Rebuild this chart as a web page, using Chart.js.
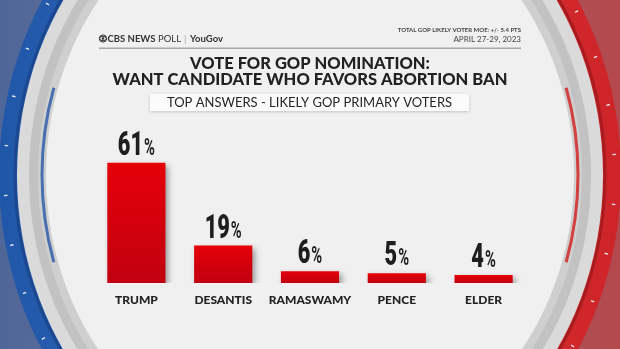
<!DOCTYPE html>
<html>
<head>
<meta charset="utf-8">
<script src="https://cdn.jsdelivr.net/npm/chart.js@4.4.0/dist/chart.umd.min.js"></script>
<style>
  html, body { margin: 0; padding: 0; background: #f0f0f0; overflow: hidden; }
  #wrap { width: 620px; height: 349px; }
</style>
</head>
<body>
<div id="wrap"><canvas id="chart"></canvas></div>
<script>
const candidates = ["TRUMP", "DESANTIS", "RAMASWAMY", "PENCE", "ELDER"];
const shares = [61, 19, 6, 5, 4];
const titleLines = ["VOTE FOR GOP NOMINATION:", "WANT CANDIDATE WHO FAVORS ABORTION BAN"];
const subtitle = "TOP ANSWERS - LIKELY GOP PRIMARY VOTERS";
const moeNote = "TOTAL GOP LIKELY VOTER MOE: +/- 5.4 PTS";
const fieldDates = "APRIL 27-29, 2023";

/* ============================= */
/* ===== studio backdrop ======= */
/* ============================= */
function disc(ctx, r, fill) {
  ctx.beginPath();
  ctx.arc(0, 0, r, 0, Math.PI * 2);
  ctx.fillStyle = fill;
  ctx.fill();
}

const backdrop = {
  id: "backdrop",
  beforeDraw(chart) {
    const ctx = chart.ctx;
    const W = chart.width, H = chart.height;
    ctx.save();

    let g = ctx.createLinearGradient(0, 0, W, 0);
    g.addColorStop(0, "#4e6698");
    g.addColorStop(0.5, "#8c7f92");
    g.addColorStop(1, "#b4484c");
    ctx.fillStyle = g;
    ctx.fillRect(0, 0, W, H);

    // the ring is slightly taller than wide
    ctx.translate(310, 175);
    ctx.scale(1, 1.106);

    g = ctx.createLinearGradient(-310, 0, 310, 0);
    g.addColorStop(0, "#2157a8");
    g.addColorStop(0.17, "#2a5fb0");
    g.addColorStop(0.3, "#c9ccd4");
    g.addColorStop(0.7, "#d8c9c9");
    g.addColorStop(0.83, "#d42b2d");
    g.addColorStop(1, "#cc2429");
    disc(ctx, 311, g);

    // darker inner edge of the coloured ring
    ctx.lineWidth = 3;
    g = ctx.createLinearGradient(-310, 0, 310, 0);
    g.addColorStop(0, "#1b4890");
    g.addColorStop(0.25, "#1b4890");
    g.addColorStop(0.35, "#b9bcc4");
    g.addColorStop(0.65, "#c9b9b9");
    g.addColorStop(0.75, "#a81c20");
    g.addColorStop(1, "#a81c20");
    ctx.strokeStyle = g;
    ctx.beginPath(); ctx.arc(0, 0, 295, 0, Math.PI * 2); ctx.stroke();

    // little white marks on the ring
    ctx.strokeStyle = "rgba(255,255,255,0.9)";
    ctx.lineWidth = 1.2;
    for (let a = -63; a <= 63; a += 8.5) {
      [180 + a, a].forEach(deg => {
        const t = deg * Math.PI / 180;
        ctx.beginPath();
        ctx.moveTo(Math.cos(t) * 303, Math.sin(t) * 303);
        ctx.lineTo(Math.cos(t) * 306.5, Math.sin(t) * 306.5);
        ctx.stroke();
      });
    }

    disc(ctx, 293, "#dadada");
    disc(ctx, 281, "#c2c2c2");
    disc(ctx, 272, "#cfcfcf");

    // thin inner accents
    ctx.lineWidth = 3;
    ctx.strokeStyle = "#4a6fb0";
    ctx.beginPath(); ctx.arc(0, 0, 268, Math.PI * 0.905, Math.PI * 1.095); ctx.stroke();
    ctx.strokeStyle = "#d24040";
    ctx.beginPath(); ctx.arc(0, 0, 268, -Math.PI * 0.095, Math.PI * 0.095); ctx.stroke();

    disc(ctx, 264, "#f0f0f0");
    ctx.restore();
  }
};

/* ============================= */
/* ===== header and titles ===== */
/* ============================= */
const headerText = {
  id: "headerText",
  afterDraw(chart) {
    const ctx = chart.ctx;
    ctx.save();
    ctx.textBaseline = "middle";

    // CBS eye
    ctx.strokeStyle = "#333"; ctx.fillStyle = "#333"; ctx.lineWidth = 1;
    ctx.beginPath(); ctx.arc(103, 38.5, 3.6, 0, Math.PI * 2); ctx.stroke();
    ctx.beginPath(); ctx.ellipse(103, 38.5, 3.4, 2.2, 0, 0, Math.PI * 2); ctx.stroke();
    ctx.beginPath(); ctx.arc(103, 38.5, 1.3, 0, Math.PI * 2); ctx.fill();

    ctx.textAlign = "left";
    ctx.font = "bold 9.5px Lato, sans-serif";
    ctx.fillText("CBS NEWS", 107.5, 39);
    let x = 107.5 + ctx.measureText("CBS NEWS").width + 2.5;
    ctx.font = "9.5px Lato, sans-serif";
    ctx.fillText("POLL", x, 39);
    x += ctx.measureText("POLL").width + 3;
    ctx.fillStyle = "#aaa";
    ctx.fillText("|", x, 39);
    ctx.fillStyle = "#333";
    ctx.font = "bold 9.5px Lato, sans-serif";
    ctx.fillText("YouGov", x + 6, 39);

    ctx.textAlign = "right";
    ctx.fillStyle = "#444";
    ctx.font = "bold 6px Lato, sans-serif";
    ctx.fillText(moeNote, 521, 30.5);
    ctx.font = "8px Lato, sans-serif";
    ctx.fillText(fieldDates, 521, 39.5);

    ctx.fillStyle = "#a8a8a8";
    ctx.fillRect(99, 47.5, 422, 1.5);

    // title
    ctx.textAlign = "center";
    ctx.fillStyle = "#222";
    ctx.font = "900 16.5px Lato, sans-serif";
    ctx.fillText(titleLines[0], 310, 63.5);
    ctx.fillText(titleLines[1], 310, 79.5);

    // subtitle box
    ctx.shadowColor = "rgba(0,0,0,0.18)";
    ctx.shadowBlur = 3;
    ctx.shadowOffsetY = 1;
    ctx.fillStyle = "#fbfbfb";
    ctx.fillRect(150, 94, 319, 17);
    ctx.shadowColor = "transparent";
    ctx.fillStyle = "#262626";
    ctx.font = "13px Lato, sans-serif";
    ctx.fillText(subtitle, 309.5, 103);
    ctx.restore();
  }
};

/* ============================= */
/* ======= bar shadows ========= */
/* ============================= */
const barShadow = {
  id: "barShadow",
  beforeDatasetsDraw(chart) {
    const ctx = chart.ctx;
    ctx.save();
    ctx.shadowColor = "rgba(0,0,0,0.38)";
    ctx.shadowBlur = 6;
    ctx.shadowOffsetX = 3;
    ctx.shadowOffsetY = 3;
  },
  afterDatasetsDraw(chart) {
    chart.ctx.restore();
  }
};

/* ============================= */
/* ====== value labels ========= */
/* ============================= */
// condensed look: draw a heavy face squeezed horizontally
const SQUEEZE = 0.64;
const NUM_FONT = "900 34px Roboto, sans-serif";
const PCT_FONT = "bold 23px Roboto, sans-serif";
const valueLabels = {
  id: "valueLabels",
  afterDatasetsDraw(chart) {
    const ctx = chart.ctx;
    const meta = chart.getDatasetMeta(0);
    ctx.save();
    ctx.fillStyle = "#1e1e1e";
    ctx.textBaseline = "alphabetic";
    ctx.textAlign = "left";
    meta.data.forEach((bar, i) => {
      const num = String(shares[i]);
      ctx.font = NUM_FONT;
      const wn = ctx.measureText(num).width * SQUEEZE;
      ctx.font = PCT_FONT;
      const wp = ctx.measureText("%").width * SQUEEZE;
      const x0 = bar.x - (wn + wp + 1) / 2;
      const y = bar.y - 8;
      ctx.save();
      ctx.translate(x0, y);
      ctx.scale(SQUEEZE, 1);
      ctx.font = NUM_FONT;
      ctx.fillText(num, 0, 0);
      ctx.font = PCT_FONT;
      ctx.fillText("%", (wn + 1) / SQUEEZE, 0);
      ctx.restore();
    });
    ctx.restore();
  }
};

function barFill(context) {
  const chart = context.chart;
  const y = chart.scales.y;
  if (!chart.chartArea || !y) return "#d6000a";
  const top = y.getPixelForValue(context.raw);
  const bottom = y.getPixelForValue(0);
  const g = chart.ctx.createLinearGradient(0, top, 0, bottom);
  g.addColorStop(0, "#e50008");
  g.addColorStop(1, "#c10010");
  return g;
}

new Chart(document.getElementById("chart"), {
  type: "bar",
  data: {
    labels: candidates,
    datasets: [{
      data: shares,
      backgroundColor: barFill,
      borderWidth: 0,
      categoryPercentage: 1.0,
      barPercentage: 0.67
    }]
  },
  options: {
    responsive: true,
    maintainAspectRatio: false,
    animation: false,
    layout: { padding: { left: 93, right: 93, top: 145, bottom: 36 } },
    plugins: {
      legend: { display: false },
      tooltip: { enabled: false }
    },
    scales: {
      x: {
        grid: { display: false, drawTicks: false },
        border: { display: false },
        ticks: {
          color: "#222",
          padding: 10,
          autoSkip: false,
          maxRotation: 0,
          minRotation: 0,
          font: { family: "Lato, sans-serif", weight: "900", size: 12 }
        },
        afterFit(scale) { scale.height = 30; }
      },
      y: {
        display: false,
        min: 0,
        max: 70
      }
    }
  },
  plugins: [backdrop, barShadow, valueLabels, headerText]
});
</script>
</body>
</html>
